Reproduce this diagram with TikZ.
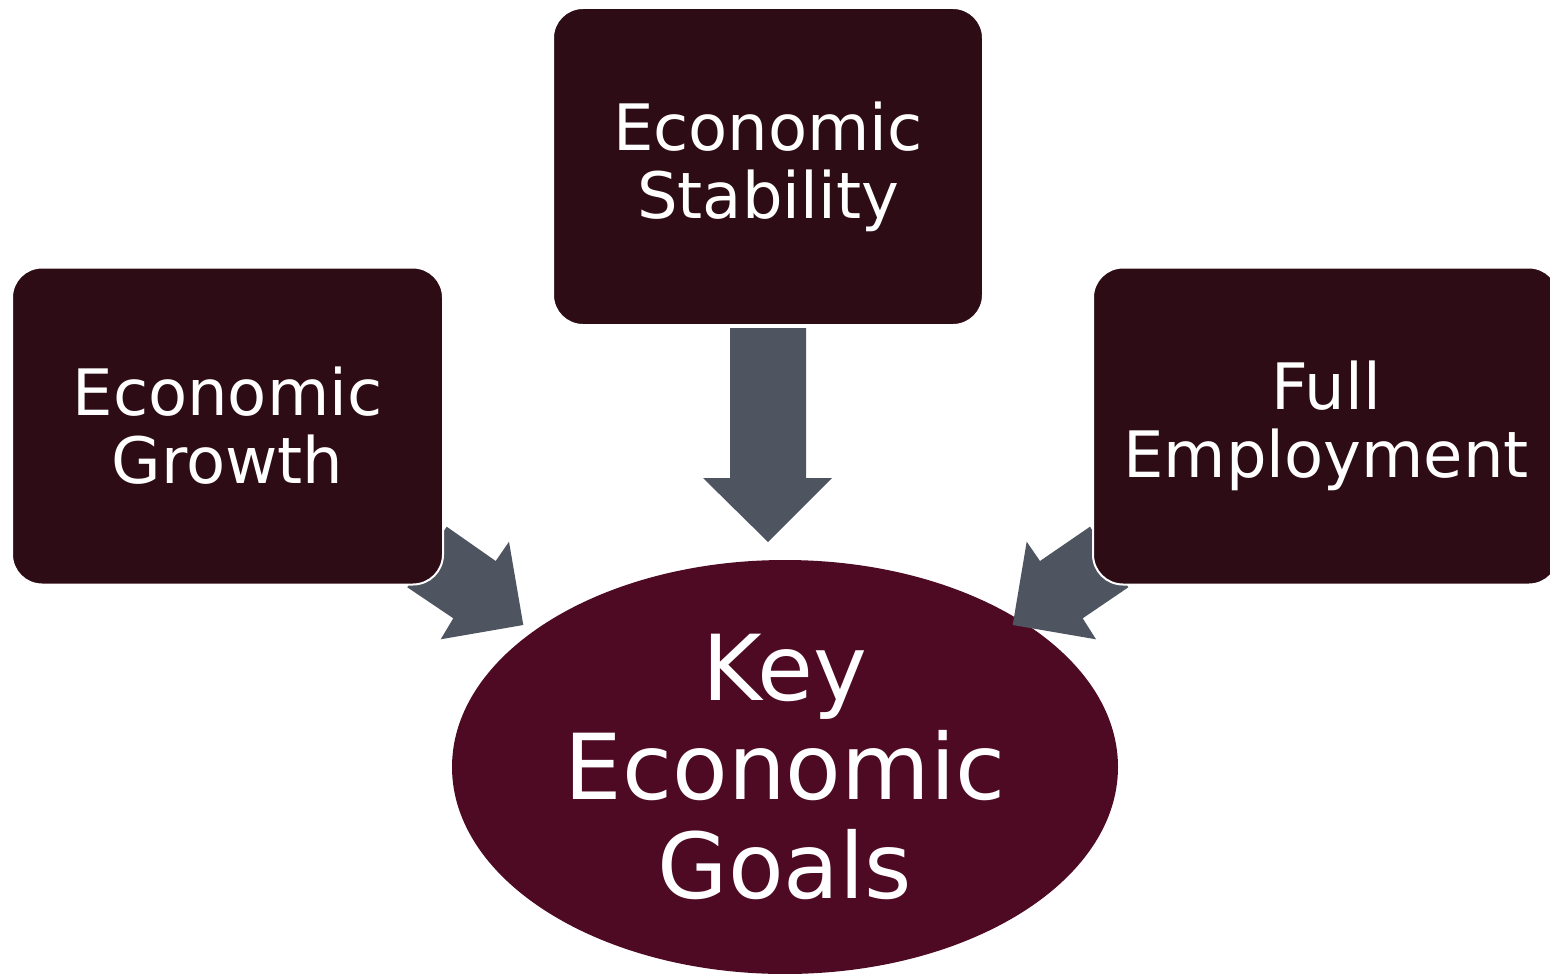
\documentclass[tikz,border=0pt]{standalone}
\usepackage{fontspec}
\setmainfont{DejaVu Sans}
\usetikzlibrary{shapes.geometric}
\definecolor{boxfill}{HTML}{2D0C16}
\definecolor{goalfill}{HTML}{4F0A23}
\definecolor{arrowfill}{HTML}{4F5461}
\tikzset{
  goalbox/.style={rectangle, rounded corners=30pt, fill=boxfill, draw=white,
    line width=2pt, minimum height=317pt, text=white, align=center,
    font=\fontsize{64}{68}\selectfont},
  goalcore/.style={ellipse, fill=goalfill, minimum width=666pt, minimum height=414pt,
    inner sep=0pt, text=white, align=center, font=\fontsize{91}{99}\selectfont},
  blockarrow/.style={fill=arrowfill, draw=none}
}
\begin{document}
\begin{tikzpicture}[x=1pt,y=-1pt]
\useasboundingbox (0,0) rectangle (1550,974);
\clip (0,0) rectangle (1550,974);
% central goal
\node[goalcore] (goals) at (785,767) {Key\\Economic\\Goals};
% block arrows pointing at the goal
\path[blockarrow] (730,328) -- (806,328) -- (806,478) -- (832,478) -- (768,542)
  -- (703,478) -- (730,478) -- cycle;
\path[blockarrow] (446.7,526.7) -- (495.7,561) -- (509,541.7) -- (523.3,625)
  -- (440.7,639.3) -- (453.3,618.3) -- (407.3,587.3) -- cycle;
\path[blockarrow] (1090,526.7) -- (1040,561) -- (1026.7,541.7) -- (1012.7,625)
  -- (1096,639.3) -- (1082.7,618.3) -- (1128.3,587.3) -- cycle;
% the three goals
\node[goalbox, minimum width=430pt] (stability) at (768,166.5) {Economic\\Stability};
\node[goalbox, minimum width=431pt] (growth) at (227.5,426) {Economic\\Growth};
\node[goalbox, minimum width=466pt] (employment) at (1326,426) {Full\\Employment};
\end{tikzpicture}
\end{document}
